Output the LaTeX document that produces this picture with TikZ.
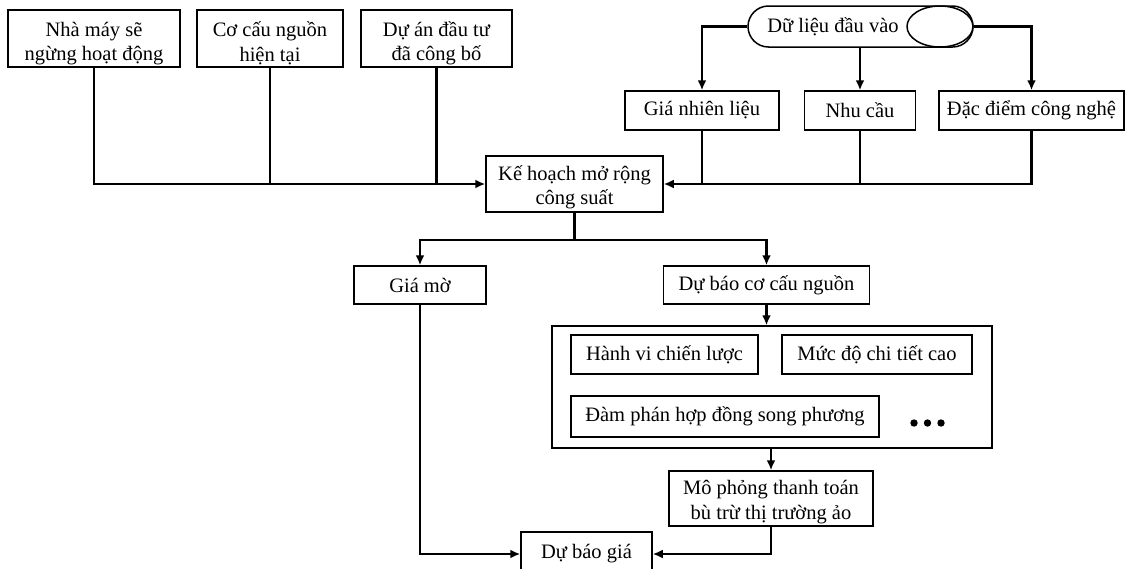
\documentclass[tikz,border=0pt]{standalone}
\usepackage{fontspec}
\setmainfont{Liberation Serif}
\usetikzlibrary{arrows.meta,shapes.geometric}
\newcommand{\topstrut}[1]{\rule{0pt}{#1}}
\begin{document}
\begin{tikzpicture}[x=1pt,y=-1pt,
  box/.style={draw, line width=1.5pt, inner sep=0pt, align=center,
    font=\fontsize{20.5}{24.5}\selectfont},
  conn/.style={line width=2.3pt},
  arr/.style={line width=2.3pt, -{Latex[length=10pt,width=9pt]}}]
\useasboundingbox (0,0) rectangle (1132,568);
% top left boxes
\node[box, minimum width=172pt, minimum height=57pt] (n1) at (94,38.5) {\topstrut{24pt}Nhà máy sẽ\\ngừng hoạt động};
\node[box, minimum width=146pt, minimum height=57pt] (n2) at (270,38.5) {\topstrut{24pt}Cơ cấu nguồn\\hiện tại};
\node[box, minimum width=151pt, minimum height=57pt] (n3) at (436.5,38.5) {\topstrut{24pt}Dự án đầu tư\\đã công bố};
% central
\node[box, minimum width=177pt, minimum height=56pt] (kh) at (574.5,184) {\topstrut{21pt}Kế hoạch mở rộng\\công suất};
% input terminator
\node[draw, line width=1.5pt, rounded corners=20.5pt, minimum width=225pt, minimum height=41pt, inner sep=0pt] (inp) at (860.5,26.5) {};
\node[draw, line width=1.5pt, ellipse, minimum width=66pt, minimum height=41pt, inner sep=0pt] (inpe) at (940,26.5) {};
\node[inner sep=0pt, font=\fontsize{20.5}{24.5}\selectfont] (inpt) at (833,27) {Dữ liệu đầu vào};
% input boxes
\node[box, minimum width=154pt, minimum height=39pt] (gnl) at (702,110.5) {Giá nhiên liệu};
\node[box, minimum width=111pt, minimum height=39pt] (nc) at (860,110.5) {Nhu cầu};
\node[box, minimum width=185pt, minimum height=39pt] (dd) at (1031.5,110.5) {Đặc điểm công nghệ};
% second level
\node[box, minimum width=132pt, minimum height=38pt] (gm) at (420,285) {Giá mờ};
\node[box, minimum width=206pt, minimum height=38pt] (dbcc) at (766.5,285) {Dự báo cơ cấu nguồn};
% outer container
\node[draw, line width=1.5pt, minimum width=440pt, minimum height=122pt, inner sep=0pt] (outer) at (772,387) {};
\node[box, minimum width=187pt, minimum height=39pt] (hv) at (664.5,354.5) {Hành vi chiến lược};
\node[box, minimum width=190pt, minimum height=39pt] (md) at (877,354.5) {Mức độ chi tiết cao};
\node[box, minimum width=308pt, minimum height=41pt] (dp) at (725,416.5) {Đàm phán hợp đồng song phương};
\fill (914,423) circle (3.7pt) (927.5,423) circle (3.7pt) (941,423) circle (3.7pt);
% simulation
\node[box, minimum width=204pt, minimum height=55pt] (mp) at (771,498.5) {\topstrut{21pt}Mô phỏng thanh toán\\bù trừ thị trường ảo};
\node[box, minimum width=131pt, minimum height=44pt] (dbg) at (586.5,554) {Dự báo giá};
% split point
\path (kh.south) ++(0,27) coordinate (split);
% connectors top-left
\draw[arr] (n1.south) |- (kh.west);
\draw[conn] (n2.south) -- (n2.south |- kh.west);
\draw[conn] (n3.south) -- (n3.south |- kh.west);
% connectors top-right
\draw[arr] (dd.south) |- (kh.east);
\draw[conn] (gnl.south) -- (gnl.south |- kh.east);
\draw[conn] (nc.south) -- (nc.south |- kh.east);
\draw[arr] (inp.west) -| (gnl.north);
\draw[arr] (inp.south -| nc.north) -- (nc.north);
\draw[arr] (inp.east) -| (dd.north);
% split
\draw[conn] (kh.south) -- (split);
\draw[arr] (split) -| (gm.north);
\draw[arr] (split) -| (dbcc.north);
\draw[arr] (dbcc.south) -- (dbcc.south |- outer.north);
\draw[arr] (outer.south -| mp.north) -- (mp.north);
% to price forecast
\draw[arr] (gm.south) |- (dbg.west);
\draw[arr] (mp.south) |- (dbg.east);
\end{tikzpicture}
\end{document}
